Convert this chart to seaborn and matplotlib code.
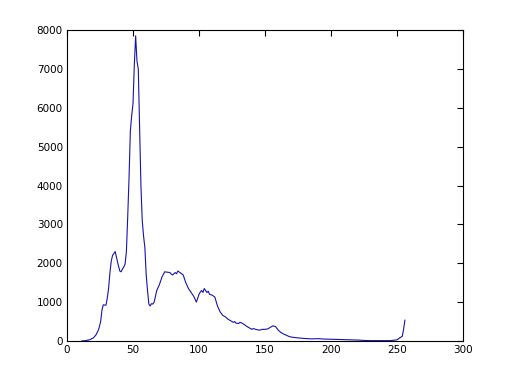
import matplotlib
matplotlib.use("Agg")
import matplotlib.pyplot as plt
import seaborn as sns
import pandas as pd

intensity = [11, 14, 17, 20, 22, 24, 25.5, 26.5, 27.5, 29.5, 30.5, 31.5, 32.5, 33.5, 34.5,
             35.5, 36.5, 37.5, 38.5, 40, 41, 42, 43, 44, 45, 46, 47, 48, 49, 50, 51, 52,
             53, 54, 55, 56, 57, 58, 59, 60, 61, 62, 63, 64, 65, 66, 67, 68, 70, 72, 74,
             76, 78, 79, 80, 82, 83, 84, 86, 88, 90, 92, 94, 96, 98, 100, 101, 102, 103,
             104, 106, 107, 108, 110, 112, 114, 116, 118, 120, 122, 123, 124, 126, 127,
             128, 130, 131, 132, 134, 136, 138, 140, 141, 142, 144, 146, 148, 150, 152,
             154, 156, 158, 160, 162, 164, 166, 168, 170, 175, 180, 185, 190, 195, 200,
             205, 210, 215, 220, 225, 230, 235, 240, 245, 250, 252, 254, 255, 256]
counts = [0, 10, 30, 80, 160, 300, 500, 800, 930, 920, 1100, 1350, 1750, 2050, 2200,
          2250, 2300, 2150, 2000, 1800, 1780, 1850, 1900, 1980, 2300, 3200, 4200, 5400,
          5800, 6100, 7100, 7850, 7200, 7000, 5500, 4000, 3100, 2700, 2400, 1700, 1300,
          950, 900, 960, 950, 1000, 1150, 1300, 1450, 1650, 1780, 1770, 1760, 1720, 1700,
          1760, 1730, 1800, 1750, 1700, 1500, 1350, 1250, 1150, 1000, 1200, 1260, 1300,
          1250, 1350, 1250, 1280, 1200, 1180, 1130, 900, 750, 660, 620, 560, 540, 520,
          480, 500, 460, 450, 480, 470, 430, 380, 340, 300, 320, 310, 290, 280, 300, 300,
          310, 350, 390, 370, 280, 220, 180, 150, 120, 100, 80, 65, 55, 60, 50, 45, 40,
          35, 30, 25, 15, 10, 10, 10, 10, 30, 80, 120, 300, 540]
x_ticks = [0, 50, 100, 150, 200, 250, 300]
y_ticks = [0, 1000, 2000, 3000, 4000, 5000, 6000, 7000, 8000]

df = pd.DataFrame({"x": intensity, "y": counts})

sns.set_style("white")
plt.rcParams["font.family"] = ["DejaVu Sans"]

fig = plt.figure(figsize=(5.12, 3.83), dpi=100)
ax = fig.add_axes([67 / 512, 42 / 383, 396 / 512, 311 / 383])
sns.lineplot(data=df, x="x", y="y", ax=ax, color="#1414b0", linewidth=0.8,
             estimator=None, sort=False)
ax.set_xlim(0, 300)
ax.set_ylim(0, 8000)
ax.set_xticks(x_ticks)
ax.set_yticks(y_ticks)
ax.set_xlabel("")
ax.set_ylabel("")
ax.tick_params(direction="in", length=4, width=0.8, labelsize=7.5, colors="black",
               top=True, right=True, pad=3)
for s in ax.spines.values():
    s.set_visible(True)
    s.set_color("black")
    s.set_linewidth(0.8)
fig.savefig("out.png", dpi=100, facecolor="white")
